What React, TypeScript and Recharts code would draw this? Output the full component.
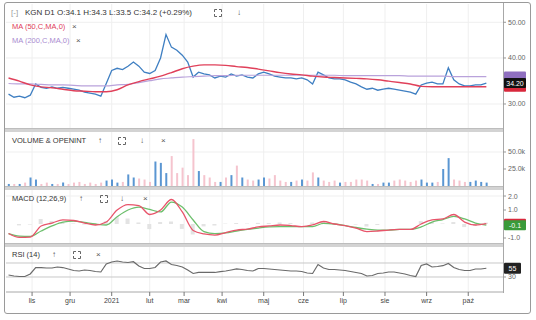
import React from "react";
import {
  ComposedChart,
  Line,
  Bar,
  Cell,
  XAxis,
  YAxis,
  CartesianGrid,
  ReferenceLine,
} from "recharts";

const FONT = '"Liberation Sans", Arial, sans-serif';

// x axis: trading-day index, 0 = first session of November 2020
const START_DAY = -13;
const STEP = 3; // closes / volume / rsi sampled every 3 sessions
const SLOW_STEP = 6; // moving averages and MACD every 6 sessions

const monthTicks = [0, 21, 44, 65, 84, 105, 128, 150, 172, 195, 218, 241];
const monthLabels = ["lis", "gru", "2021", "lut", "mar", "kwi", "maj", "cze", "lip", "sie", "wrz", "paź"];

const closes = [
  31.9, 31.3, 31.5, 31.2, 31.7, 34.0, 33.3, 33.1, 33.4, 33.1,
  33.3, 33.1, 32.9, 32.7, 32.3, 32.1, 31.9, 31.5, 34.1, 37.0,
  37.5, 37.2, 38.0, 39.0, 38.0, 36.6, 36.3, 37.0, 40.0, 46.3,
  42.8, 42.0, 40.7, 39.0, 35.5, 36.6, 36.2, 36.0, 35.3, 35.7,
  35.5, 36.2, 35.7, 36.0, 35.5, 35.3, 36.2, 36.6, 36.2, 35.7,
  35.5, 35.3, 35.3, 35.1, 35.3, 34.9, 34.0, 36.6, 36.0, 35.3,
  35.1, 35.1, 34.9, 34.4, 34.0, 33.4, 32.9, 33.1, 32.7, 32.9,
  33.1, 32.9, 32.7, 32.5, 32.3, 31.9, 33.8, 34.2, 34.4, 34.0,
  34.0, 37.6, 34.9, 34.0, 33.6, 33.6, 33.8, 33.8, 34.2,
];

// thousands of shares
const volumes = [
  3, 3, 3, 5, 12.5, 9.5, 3, 5, 3, 3,
  5, 3, 5, 6, 3, 5, 3, 5, 8, 9.5,
  5, 6, 17, 12.5, 11, 9.5, 6, 36, 34, 19,
  44, 19, 27, 16, 69, 22, 16, 12.5, 6, 6,
  12.5, 16, 30, 12.5, 9.5, 8, 9.5, 12.5, 11, 16,
  8, 6, 6, 8, 9.5, 8, 20, 12.5, 8, 6,
  8, 5, 6, 6, 9.5, 9.5, 8, 3, 3, 5,
  5, 8, 9.5, 8, 6, 8, 9.5, 5, 5, 6,
  25, 41, 9.5, 8, 6, 6, 8, 6, 5,
];

const rsiValues = [
  35.7, 32.9, 31.4, 31.4, 38.6, 57.0, 57.0, 55.7, 55.7, 58.6,
  57.0, 52.9, 48.6, 47.1, 50.0, 48.6, 45.7, 44.3, 67.1, 72.9,
  75.7, 72.9, 71.4, 73.7, 61.4, 54.3, 54.3, 57.0, 72.9, 75.7,
  65.7, 62.9, 58.6, 50.0, 40.0, 42.9, 42.9, 42.9, 42.9, 45.1,
  47.1, 50.0, 52.9, 51.4, 48.6, 47.1, 54.3, 54.3, 52.9, 51.4,
  50.0, 48.6, 47.1, 47.1, 45.7, 41.4, 40.0, 65.7, 55.7, 51.4,
  51.4, 50.0, 48.6, 45.7, 42.9, 40.0, 32.9, 34.3, 40.0, 41.4,
  44.3, 44.3, 41.4, 38.6, 34.3, 31.4, 62.9, 67.1, 58.6, 60.0,
  62.3, 68.6, 57.0, 51.4, 48.6, 48.6, 52.9, 52.9, 55.0,
];

const ma50 = [
  35.3, 34.6, 33.8, 33.4, 33.2, 32.9, 32.6, 32.5, 32.4, 32.4,
  32.8, 33.8, 34.5, 35.1, 35.7, 36.5, 37.4, 38.0, 38.3, 38.3,
  38.2, 37.9, 37.7, 37.3, 36.9, 36.5, 36.2, 36.0, 35.7, 35.5,
  35.4, 35.3, 35.2, 35.1, 34.9, 34.6, 34.3, 34.0, 33.5, 33.4,
  33.4, 33.4, 33.4, 33.4, 33.4,
];

const ma200 = [
  34.1, 34.0, 34.0, 33.9, 33.8, 33.8, 33.7, 33.6, 33.6, 33.6,
  33.8, 33.9, 34.3, 34.7, 35.1, 35.3, 35.5, 35.6, 35.7, 35.8,
  35.8, 35.9, 35.9, 35.9, 35.9, 35.9, 35.9, 35.9, 35.9, 35.9,
  35.9, 35.8, 35.8, 35.8, 35.8, 35.8, 35.8, 35.7, 35.7, 35.7,
  35.7, 35.6, 35.6, 35.6, 35.6,
];

const macdLine = [
  -0.68, -0.96, -0.93, -0.14, 0.07, 0.29, 0.25, 0.07, -0.07, 0.14,
  1.0, 1.39, 1.32, 0.68, 1.0, 1.75, 0.86, -0.46, -0.71, -0.79,
  -0.61, -0.43, -0.36, -0.21, -0.14, -0.07, -0.11, -0.18, -0.07, 0.18,
  0.0, -0.11, -0.29, -0.54, -0.5, -0.43, -0.39, -0.39, 0.0, 0.29,
  0.36, 0.68, 0.14, -0.07, 0.02,
];

const signalLine = [
  -0.68, -0.86, -0.89, -0.5, -0.14, 0.14, 0.21, 0.11, 0.0, -0.07,
  0.52, 1.0, 1.21, 1.04, 0.86, 1.57, 1.21, 0.29, -0.54, -0.68,
  -0.64, -0.5, -0.39, -0.29, -0.21, -0.18, -0.18, -0.19, -0.18, 0.04,
  0.0, -0.11, -0.25, -0.36, -0.43, -0.43, -0.39, -0.39, -0.21, 0.14,
  0.32, 0.54, 0.36, 0.07, -0.08,
];

const priceRows = closes.map((close, i) => ({
  day: START_DAY + i * STEP,
  close,
  volume: volumes[i],
  rsi: rsiValues[i],
  up: i === 0 || close >= closes[i - 1],
}));

const slowRows = ma50.map((m, j) => ({
  day: START_DAY + j * SLOW_STEP,
  ma50: m,
  ma200: ma200[j],
  macd: macdLine[j],
  signal: signalLine[j],
  hist: +(macdLine[j] - signalLine[j]).toFixed(2),
}));

const last = (a: number[]) => a[a.length - 1];

const W = 536;
const X_DOMAIN: [number, number] = [-14.4, 260.2];
const MARGIN = { top: 0, right: 3, bottom: 0, left: 6 };
const tickStyle = { fontSize: 7, fill: "#666", fontFamily: FONT };

const Tag = ({ viewBox, bg, text, h = 10, w = 22 }: any) => {
  if (!viewBox) return null;
  const x = viewBox.x + viewBox.width + 1;
  const y = viewBox.y;
  return (
    <g>
      <rect x={x} y={y - h / 2} width={w} height={h} fill={bg} rx={1} />
      {text ? (
        <text x={x + w / 2} y={y + 2.5} textAnchor="middle" fontSize={7} fill="#fff" fontFamily={FONT}>
          {text}
        </text>
      ) : null}
    </g>
  );
};

const Corners = ({ left, top }: { left: number; top: number }) => (
  <svg width={8} height={8} style={{ position: "absolute", left, top }}>
    <path d="M0.5 3V0.5H3M5 0.5H7.5V3M7.5 5V7.5H5M3 7.5H0.5V5" fill="none" stroke="#666" strokeWidth={1} />
  </svg>
);

const Txt = ({ left, top, color = "#333", children, size = 8 }: any) => (
  <div
    style={{
      position: "absolute",
      left,
      top,
      fontSize: size,
      lineHeight: "10px",
      color,
      fontFamily: FONT,
      whiteSpace: "nowrap",
    }}
  >
    {children}
  </div>
);

const hiddenX = (
  <XAxis type="number" dataKey="day" domain={X_DOMAIN} ticks={monthTicks} hide allowDataOverflow />
);

export default function App() {
  return (
    <div style={{ position: "absolute", left: 0, top: 0, width: W, height: 320, background: "#fff" }}>
      {/* outer frame */}
      <div style={{ position: "absolute", left: 4, top: 2, width: 525, height: 310, border: "1px solid #9a9a9a", borderRadius: 3 }} />
      {/* panel separators */}
      {[128, 186, 243].map((t) => (
        <div key={t} style={{ position: "absolute", left: 5, top: t, width: 498, height: 4, background: "#d3d3d3", borderTop: "1px solid #bdbdbd", boxSizing: "border-box" }} />
      ))}
      {/* right border of plot area */}
      <div style={{ position: "absolute", left: 503, top: 3, width: 1, height: 290, background: "#a8a8a8" }} />

      {/* price panel */}
      <div style={{ position: "absolute", left: 0, top: 4 }}>
        <ComposedChart width={W} height={124} data={priceRows} margin={MARGIN}>
          <CartesianGrid stroke="#efefef" horizontalValues={[30, 40, 50]} verticalValues={monthTicks} />
          {hiddenX}
          <YAxis
            orientation="right"
            width={30}
            scale="log"
            domain={[25.82, 56.05]}
            ticks={[30, 40, 50]}
            allowDataOverflow
            tick={tickStyle}
            tickSize={3}
            tickLine={{ stroke: "#999" }}
            axisLine={false}
            tickFormatter={(v: number) => v.toFixed(2)}
          />
          <Line dataKey="close" stroke="#3f7fc2" strokeWidth={1.3} dot={false} isAnimationActive={false} />
          <Line data={slowRows} dataKey="ma200" type="monotone" stroke="#b9a2db" strokeWidth={1.2} dot={false} isAnimationActive={false} />
          <Line data={slowRows} dataKey="ma50" type="monotone" stroke="#e0405a" strokeWidth={1.4} dot={false} isAnimationActive={false} />
          <ReferenceLine y={last(ma200)} stroke="none" label={(p: any) => <Tag viewBox={p.viewBox} bg="#8f6fc0" />} />
          <ReferenceLine y={last(ma50)} stroke="none" label={(p: any) => <Tag viewBox={p.viewBox} bg="#d8283c" />} />
          <ReferenceLine
            y={last(closes)}
            stroke="none"
            label={(p: any) => <Tag viewBox={p.viewBox} bg="#111" text={last(closes).toFixed(2)} />}
          />
        </ComposedChart>
      </div>

      {/* volume panel */}
      <div style={{ position: "absolute", left: 0, top: 132 }}>
        <ComposedChart width={W} height={54} data={priceRows} margin={MARGIN}>
          <CartesianGrid stroke="#efefef" horizontalValues={[25, 50]} verticalValues={monthTicks} />
          {hiddenX}
          <YAxis
            orientation="right"
            width={30}
            domain={[0, 79.4]}
            ticks={[25, 50]}
            allowDataOverflow
            tick={tickStyle}
            tickSize={3}
            tickLine={{ stroke: "#999" }}
            axisLine={false}
            tickFormatter={(v: number) => `${v.toFixed(1)}k`}
          />
          <Bar dataKey="volume" barSize={2} isAnimationActive={false}>
            {priceRows.map((r, i) => (
              <Cell key={i} fill={r.up ? "#5a96d2" : "#f5c4ce"} />
            ))}
          </Bar>
        </ComposedChart>
      </div>

      {/* MACD panel */}
      <div style={{ position: "absolute", left: 0, top: 190 }}>
        <ComposedChart width={W} height={53} data={slowRows} margin={MARGIN}>
          <CartesianGrid stroke="#efefef" horizontalValues={[-1, 1, 2]} verticalValues={monthTicks} />
          {hiddenX}
          <YAxis
            orientation="right"
            width={30}
            domain={[-1.357, 2.43]}
            ticks={[-1, 1, 2]}
            allowDataOverflow
            tick={tickStyle}
            tickSize={3}
            tickLine={{ stroke: "#999" }}
            axisLine={false}
            tickFormatter={(v: number) => v.toFixed(1)}
          />
          <Bar dataKey="hist" barSize={4} fill="#e3e3e3" isAnimationActive={false} />
          <Line dataKey="signal" type="monotone" stroke="#6cbf6c" strokeWidth={1.3} dot={false} isAnimationActive={false} />
          <Line dataKey="macd" type="monotone" stroke="#e8546a" strokeWidth={1.3} dot={false} isAnimationActive={false} />
          <ReferenceLine y={last(macdLine)} stroke="none" label={(p: any) => <Tag viewBox={p.viewBox} bg="#d8283c" />} />
          <ReferenceLine
            y={last(signalLine)}
            stroke="none"
            label={(p: any) => <Tag viewBox={p.viewBox} bg="#3a9a3a" text={last(signalLine).toFixed(1)} />}
          />
        </ComposedChart>
      </div>

      {/* RSI panel + time axis */}
      <div style={{ position: "absolute", left: 0, top: 247 }}>
        <ComposedChart width={W} height={66} data={priceRows} margin={MARGIN}>
          <CartesianGrid stroke="#efefef" horizontal={false} verticalValues={monthTicks} />
          <XAxis
            type="number"
            dataKey="day"
            domain={X_DOMAIN}
            ticks={monthTicks}
            allowDataOverflow
            height={21}
            tick={{ fontSize: 7, fill: "#444", fontFamily: FONT }}
            tickSize={4}
            tickLine={{ stroke: "#777" }}
            axisLine={{ stroke: "#a8a8a8" }}
            tickFormatter={(v: number) => monthLabels[monthTicks.indexOf(v)]}
          />
          <YAxis
            orientation="right"
            width={30}
            domain={[-12.9, 115.7]}
            ticks={[30]}
            allowDataOverflow
            tick={tickStyle}
            tickSize={3}
            tickLine={{ stroke: "#999" }}
            axisLine={false}
          />
          <ReferenceLine y={70} stroke="#c8c8c8" />
          <ReferenceLine y={30} stroke="#c8c8c8" />
          <Line dataKey="rsi" stroke="#6a6a6a" strokeWidth={1.2} dot={false} isAnimationActive={false} />
          <ReferenceLine
            y={last(rsiValues)}
            stroke="none"
            label={(p: any) => <Tag viewBox={p.viewBox} bg="#222" w={17} h={11} text={last(rsiValues).toFixed(0)} />}
          />
        </ComposedChart>
      </div>

      {/* legends / panel titles */}
      <Txt left={11} top={8} color="#999">[-]</Txt>
      <Txt left={25} top={8}>KGN D1 O:34.1 H:34.3 L:33.5 C:34.2 (+0.29%)</Txt>
      <Corners left={214} top={9} />
      <Txt left={237} top={8} color="#555">↓</Txt>
      <Txt left={12} top={22} color="#e0405a" size={7.5}>MA (50,C,MA,0)</Txt>
      <Txt left={72} top={22} color="#555">×</Txt>
      <Txt left={12} top={36} color="#a98bd0" size={7.5}>MA (200,C,MA,0)</Txt>
      <Txt left={76} top={36} color="#555">×</Txt>

      <Txt left={12} top={136} size={7.5}>VOLUME &amp; OPENINT</Txt>
      <Txt left={98} top={136} color="#555">↑</Txt>
      <Corners left={118} top={137} />
      <Txt left={140} top={136} color="#555">↓</Txt>
      <Txt left={161} top={136} color="#555">×</Txt>

      <Txt left={12} top={194} size={7.5}>MACD (12,26,9)</Txt>
      <Txt left={79} top={194} color="#555">↑</Txt>
      <Corners left={100} top={195} />
      <Txt left={120} top={194} color="#555">↓</Txt>
      <Txt left={143} top={194} color="#555">×</Txt>

      <Txt left={12} top={250} size={7.5}>RSI (14)</Txt>
      <Txt left={52} top={250} color="#555">↑</Txt>
      <Corners left={73} top={251} />
      <Txt left={96} top={250} color="#555">×</Txt>
    </div>
  );
}
